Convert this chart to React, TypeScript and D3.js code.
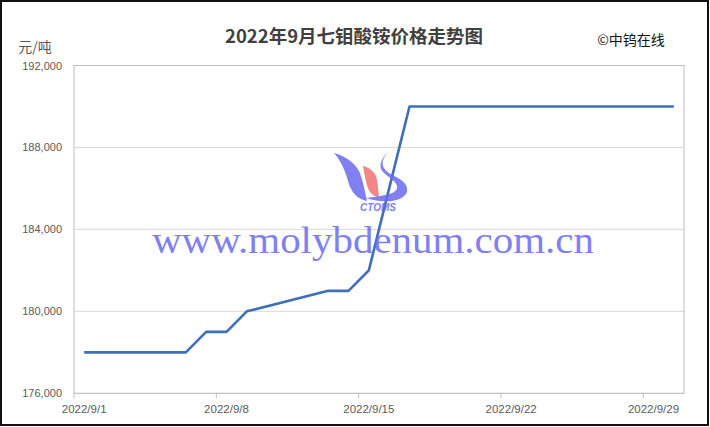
import React from "react";
import * as d3 from "d3";

const dates = ["2022-09-01","2022-09-02","2022-09-05","2022-09-06","2022-09-07","2022-09-08","2022-09-09","2022-09-13","2022-09-14","2022-09-15","2022-09-16","2022-09-17","2022-09-19","2022-09-20","2022-09-21","2022-09-22","2022-09-23","2022-09-26","2022-09-27","2022-09-28","2022-09-29","2022-09-30"];
const prices = [178000,178000,178000,178000,179000,179000,180000,181000,181000,182000,186000,190000,190000,190000,190000,190000,190000,190000,190000,190000,190000,190000];
const yTicks = [176000,180000,184000,188000,192000];
const xTickDates = ["2022-09-01","2022-09-08","2022-09-15","2022-09-22","2022-09-29"];
const xTickLabels = ["2022/9/1","2022/9/8","2022/9/15","2022/9/22","2022/9/29"];

const W = 710, H = 427;
const L = 74, R = 684, T = 65.5, B = 393.3;
const parse = d3.timeParse("%Y-%m-%d");
const DAY = 86400000;

export default function App() {
  const x = d3.scaleTime().domain([parse("2022-09-01")!, parse("2022-10-01")!]).range([L, R]);
  const y = d3.scaleLinear().domain([176000, 192000]).range([B, T]);
  const pts = dates.map((d, i) => ({ t: new Date(parse(d)!.getTime() + DAY / 2), v: prices[i] }));
  const line = d3.line<{ t: Date; v: number }>().x(d => x(d.t)).y(d => y(d.v));
  const fmt = d3.format(",");
  const lab = "#595959";
  return (
    <svg width={W} height={H} style={{ position: "absolute", left: 0, top: 0, background: "#fff" }}>
      <rect x={0} y={0} width={W} height={H} fill="#fff" />
      {yTicks.map(t => (
        <line key={t} x1={L} x2={R} y1={y(t)} y2={y(t)} stroke="#d9d9d9" strokeWidth={1} />
      ))}
      <rect x={L} y={T} width={R - L} height={B - T} fill="none" stroke="#bfbfbf" strokeWidth={1} />
      {xTickDates.map((d, i) => {
        const t0 = parse(d)!;
        const xc = x(new Date(t0.getTime() + DAY / 2));
        return (
          <g key={d}>
            <line x1={x(t0)} x2={x(t0)} y1={B} y2={B + 5} stroke="#bfbfbf" />
            <text x={xc} y={413} textAnchor="middle" fontSize={11.5} fill={lab} fontFamily="Liberation Sans, Arial, sans-serif">{xTickLabels[i]}</text>
          </g>
        );
      })}
      {yTicks.map(t => (
        <text key={t} x={62} y={y(t) + 4} textAnchor="end" fontSize={11} fill={lab} fontFamily="Liberation Sans, Arial, sans-serif">{fmt(t)}</text>
      ))}
      <path d={line(pts) || ""} fill="none" stroke="#3e6fb8" strokeWidth={2.6} strokeLinejoin="round" />
      <g opacity={0.85}>
        <path d="M334,153 C341,161 345,170 348,181 C351,192 357,199 367,201 C365,192 363,180 359,171 C354,162 345,156 334,153 Z" fill="#6a6af0" />
        <path d="M363,166 C365,176 366,186 370,192 C372,195 376,197 379,197 C378,190 378,182 376,176 C373,170 368,167 363,166 Z" fill="#f07070" />
        <path d="M388,152 C376,166 386,172 398,178 C412,186 410,198 392,201 C382,202 372,200 366,198 C380,196 396,195 397,188 C398,181 388,178 383,172 C378,166 381,159 388,152 Z" fill="#6a6af0" />
        <text x={378} y={211} textAnchor="middle" fontSize={10} fontWeight="bold" fontStyle="italic" fill="#6a6af0" fontFamily="Liberation Sans, Arial, sans-serif">CTOMS</text>
        <text x={373} y={253} textAnchor="middle" fontSize={37} textLength={442} lengthAdjust="spacingAndGlyphs" fill="#6b6bee" fontFamily="Liberation Serif, Times New Roman, serif">www.molybdenum.com.cn</text>
      </g>
      <text x={354} y={43} textAnchor="middle" fontSize={18} fontWeight="bold" fill="#404040" textLength={258} lengthAdjust="spacingAndGlyphs" fontFamily="Noto Sans CJK SC, sans-serif">2022年9月七钼酸铵价格走势图</text>
      <text x={631} y={45} textAnchor="middle" fontSize={14} fill="#111" fontFamily="Noto Sans CJK SC, sans-serif">©中钨在线</text>
      <text x={35} y={52} textAnchor="middle" fontSize={14} fill={lab} fontFamily="Noto Sans CJK SC, sans-serif">元/吨</text>
      <rect x={1} y={1} width={W - 3} height={H - 3} fill="none" stroke="#111" strokeWidth={2} />
    </svg>
  );
}
